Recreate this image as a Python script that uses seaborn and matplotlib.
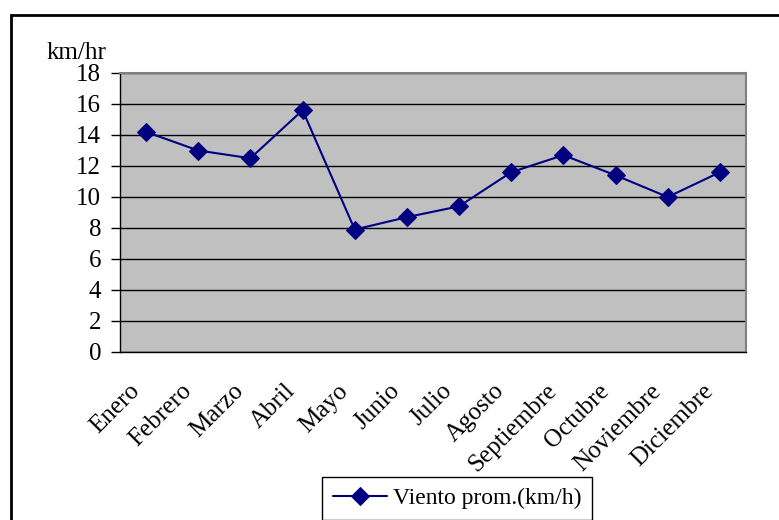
import matplotlib
matplotlib.use("Agg")
import matplotlib.pyplot as plt
import matplotlib.patches as mpatches
import matplotlib.transforms as mtransforms
import numpy as np
import pandas as pd
import seaborn as sns

# Monthly average wind speed
meses = ["Enero", "Febrero", "Marzo", "Abril", "Mayo", "Junio", "Julio",
         "Agosto", "Septiembre", "Octubre", "Noviembre", "Diciembre"]
viento = [14.2, 13.0, 12.5, 15.6, 7.9, 8.7, 9.4, 11.6, 12.7, 11.4, 10.0, 11.6]
y_ticks = [0, 2, 4, 6, 8, 10, 12, 14, 16, 18]
serie = "Viento prom.(km/h)"
unidad = "km/hr"

sns.set_theme(style="white")
plt.rcParams["font.family"] = ["Liberation Serif", "DejaVu Serif"]
plt.rcParams["text.color"] = "black"
plt.rcParams["xtick.color"] = "black"
plt.rcParams["ytick.color"] = "black"
plt.rcParams["xtick.labelcolor"] = "black"
plt.rcParams["ytick.labelcolor"] = "black"

FS = 18
W, H = 779, 520
fig = plt.figure(figsize=(W / 100, H / 100), dpi=100)
fig.patch.set_facecolor("white")

# outer chart frame (runs off the right and bottom edges)
frame = mpatches.Rectangle((11 / W, -0.2), 1.2, 1.2 - 15 / H,
                           transform=fig.transFigure, fill=False,
                           edgecolor="black", linewidth=2, clip_on=False)
fig.patches.append(frame)

left, right, top, bottom = 120, 746, 73, 352
ax = fig.add_axes([left / W, 1 - bottom / H, (right - left) / W, (bottom - top) / H])
ax.set_facecolor("#C0C0C0")

df = pd.DataFrame({"mes": meses, "viento": viento})
df["pos"] = np.arange(len(meses))
sns.lineplot(data=df, x="pos", y="viento", ax=ax, color="#000080",
             marker="D", markersize=9, markeredgecolor="#000080",
             linewidth=1.5, label=serie, legend=False)

ax.set_xlim(-0.5, len(meses) - 0.5)
ax.set_ylim(0, 18)
ax.set_yticks(y_ticks)
ax.set_yticklabels([str(v) for v in y_ticks], fontsize=FS)
ax.grid(axis="y", color="black", linewidth=1)
ax.grid(axis="x", visible=False)
ax.set_axisbelow(True)

ax.set_xticks(np.arange(len(meses)))
ax.set_xticklabels(meses, rotation=45, ha="right", va="top",
                   rotation_mode="anchor", fontsize=FS)
ax.set_xticks(np.arange(-0.5, len(meses)), minor=True)
ax.tick_params(axis="x", which="major", length=0, pad=20)
ax.tick_params(axis="x", which="minor", length=5, width=1, color="black", direction="out")
ax.tick_params(axis="y", length=6.5, width=1, color="black", direction="out", left=True, pad=7)

# shift month labels slightly left of their category centres
shift = mtransforms.ScaledTranslation(-18 / 100, 0, fig.dpi_scale_trans)
for lbl in ax.get_xticklabels():
    lbl.set_transform(lbl.get_transform() + shift)
yshift = mtransforms.ScaledTranslation(0, -2 / 100, fig.dpi_scale_trans)
for lbl in ax.get_yticklabels():
    lbl.set_verticalalignment("center")
    lbl.set_transform(lbl.get_transform() + yshift)

for s in ["left", "bottom"]:
    ax.spines[s].set_color("black")
    ax.spines[s].set_linewidth(1)
for s in ["top", "right"]:
    ax.spines[s].set_color("#808080")
    ax.spines[s].set_linewidth(1.5)
ax.set_xlabel("")
ax.set_ylabel("")

fig.text(47 / W, 1 - 59 / H, unidad, fontsize=FS, ha="left", va="baseline")

handles, labels = ax.get_legend_handles_labels()
leg = fig.legend(handles, labels, loc="upper left",
                 bbox_to_anchor=(322 / W, 1 - 477 / H),
                 fontsize=17, frameon=True, fancybox=False,
                 edgecolor="black", framealpha=1, borderpad=0.45,
                 handlelength=2.3, handletextpad=0.25, borderaxespad=0)
leg.get_frame().set_linewidth(1)

fig.savefig("out.png", dpi=100)
